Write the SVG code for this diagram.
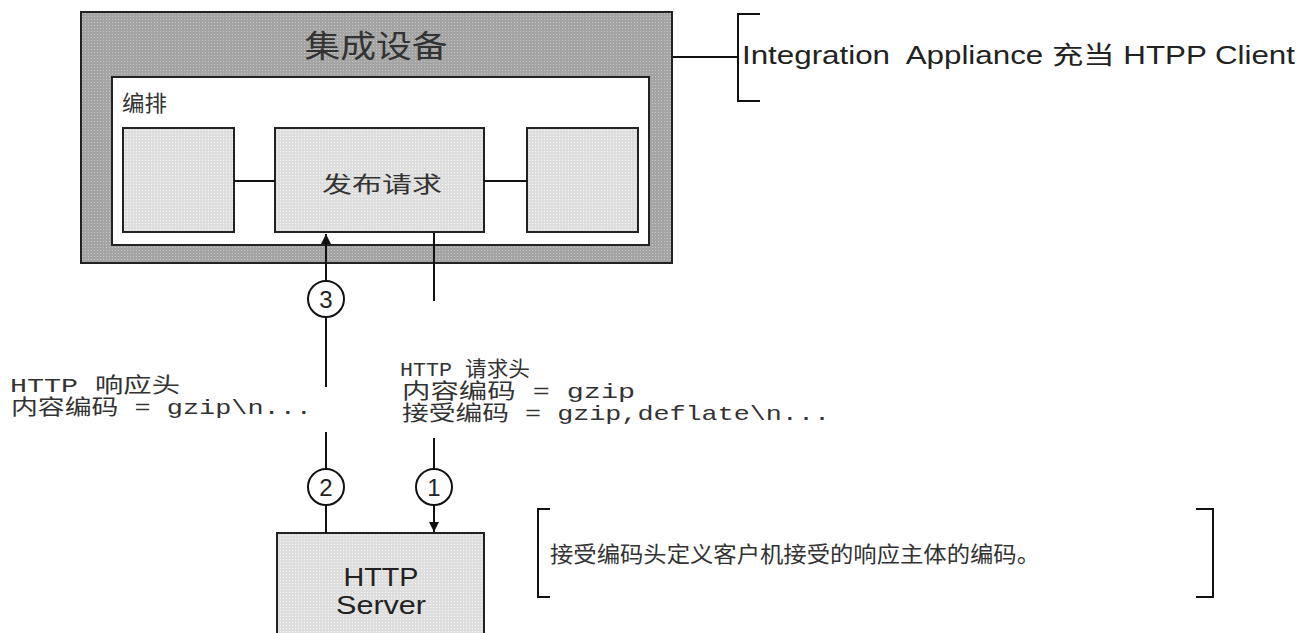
<svg xmlns="http://www.w3.org/2000/svg" width="1314" height="633" viewBox="0 0 1314 633">
  <defs>
    <pattern id="dotsDark" width="3" height="3" patternUnits="userSpaceOnUse">
      <rect width="3" height="3" fill="#a4a4a4"/>
      <rect x="1" y="1" width="1" height="1" fill="#c6c6c6"/>
    </pattern>
    <pattern id="dotsLight" width="3" height="3" patternUnits="userSpaceOnUse">
      <rect width="3" height="3" fill="#dedede"/>
      <rect x="1" y="1" width="1" height="1" fill="#f6f6f6"/>
    </pattern>
    <marker id="arrow" viewBox="0 0 10 10" refX="10" refY="5" markerWidth="10" markerHeight="10" markerUnits="userSpaceOnUse" orient="auto">
      <path d="M0,0 L10,5 L0,10 z" fill="#111"/>
    </marker>
  </defs>
  <style>
    .box { stroke: #222; stroke-width: 2; }
    .line { stroke: #111; stroke-width: 2; fill: none; }
    .circ { stroke: #111; stroke-width: 2; fill: #fff; }
    .num { font-family: "Liberation Sans", Arial, sans-serif; font-size: 24px; fill: #222; text-anchor: middle; }
    .cjk { font-family: "Noto Sans CJK SC", sans-serif; fill: #333; }
    .mono { font-family: "Liberation Mono", "Noto Sans CJK SC", monospace; font-size: 21px; fill: #333; }
    .sans { font-family: "Liberation Sans", "Noto Sans CJK SC", sans-serif; fill: #222; white-space: pre; }
  </style>
  <rect width="1314" height="633" fill="#fff"/>

  <g id="appliance">
    <rect class="box" x="81" y="12" width="591" height="251" fill="url(#dotsDark)"/>
    <text class="cjk" x="376" y="57" font-size="31" text-anchor="middle" textLength="143" lengthAdjust="spacingAndGlyphs">集成设备</text>
  </g>
  <g id="orchestration">
    <rect class="box" x="112" y="77" width="537" height="168" fill="#fff"/>
    <text class="cjk" x="122" y="111" font-size="22" textLength="45" lengthAdjust="spacingAndGlyphs">编排</text>
  </g>
  <g id="left-step">
    <rect class="box" x="123" y="128" width="111" height="104" fill="url(#dotsLight)"/>
  </g>
  <g id="publish-request">
    <rect class="box" x="275" y="128" width="209" height="104" fill="url(#dotsLight)"/>
    <text class="cjk" x="382" y="192" font-size="22" text-anchor="middle" textLength="120" lengthAdjust="spacingAndGlyphs">发布请求</text>
  </g>
  <g id="right-step">
    <rect class="box" x="527" y="128" width="111" height="104" fill="url(#dotsLight)"/>
  </g>
  <g id="http-server">
    <rect class="box" x="277" y="533" width="207" height="110" fill="url(#dotsLight)"/>
    <text class="sans" x="381" y="586" font-size="26" text-anchor="middle" textLength="75" lengthAdjust="spacingAndGlyphs">HTTP</text>
    <text class="sans" x="381" y="614" font-size="26" text-anchor="middle" textLength="90" lengthAdjust="spacingAndGlyphs">Server</text>
  </g>
  <g id="client-note">
    <path class="line" d="M760,14 H738 V101 H760"/>
    <text class="sans" x="742" y="64" font-size="25" textLength="553" lengthAdjust="spacingAndGlyphs">Integration  Appliance 充当 HTPP Client</text>
  </g>
  <g id="response-header">
    <text class="mono" x="10" y="392" textLength="170" lengthAdjust="spacingAndGlyphs">HTTP 响应头</text>
    <text class="mono" x="11" y="414" textLength="301" lengthAdjust="spacingAndGlyphs">内容编码 = gzip\n...</text>
  </g>
  <g id="request-header">
    <text class="mono" x="400" y="376" textLength="130" lengthAdjust="spacingAndGlyphs">HTTP 请求头</text>
    <text class="mono" x="402" y="398" textLength="233" lengthAdjust="spacingAndGlyphs">内容编码 = gzip</text>
    <text class="mono" x="402" y="420" textLength="428" lengthAdjust="spacingAndGlyphs">接受编码 = gzip,deflate\n...</text>
  </g>
  <g id="accept-note">
    <path class="line" d="M550,509 H538 V597 H550"/>
    <path class="line" d="M1196,509 H1213 V597 H1196"/>
    <text class="cjk" x="550" y="562" font-size="22" textLength="490" lengthAdjust="spacingAndGlyphs">接受编码头定义客户机接受的响应主体的编码。</text>
  </g>

  <g id="connectors">
    <line class="line" x1="234" y1="181" x2="275" y2="181"/>
    <line class="line" x1="484" y1="181" x2="527" y2="181"/>
    <line class="line" x1="673" y1="57" x2="738" y2="57"/>
    <line class="line" x1="326" y1="387" x2="326" y2="234" marker-end="url(#arrow)"/>
    <line class="line" x1="326" y1="432" x2="326" y2="533"/>
    <line class="line" x1="434" y1="233" x2="434" y2="301"/>
    <line class="line" x1="434" y1="438" x2="434" y2="532" marker-end="url(#arrow)"/>
    <circle class="circ" cx="326" cy="299" r="18"/>
    <text class="num" x="326" y="308">3</text>
    <circle class="circ" cx="326" cy="487" r="18"/>
    <text class="num" x="326" y="496">2</text>
    <circle class="circ" cx="434" cy="487" r="18"/>
    <text class="num" x="434" y="496">1</text>
  </g>
</svg>
